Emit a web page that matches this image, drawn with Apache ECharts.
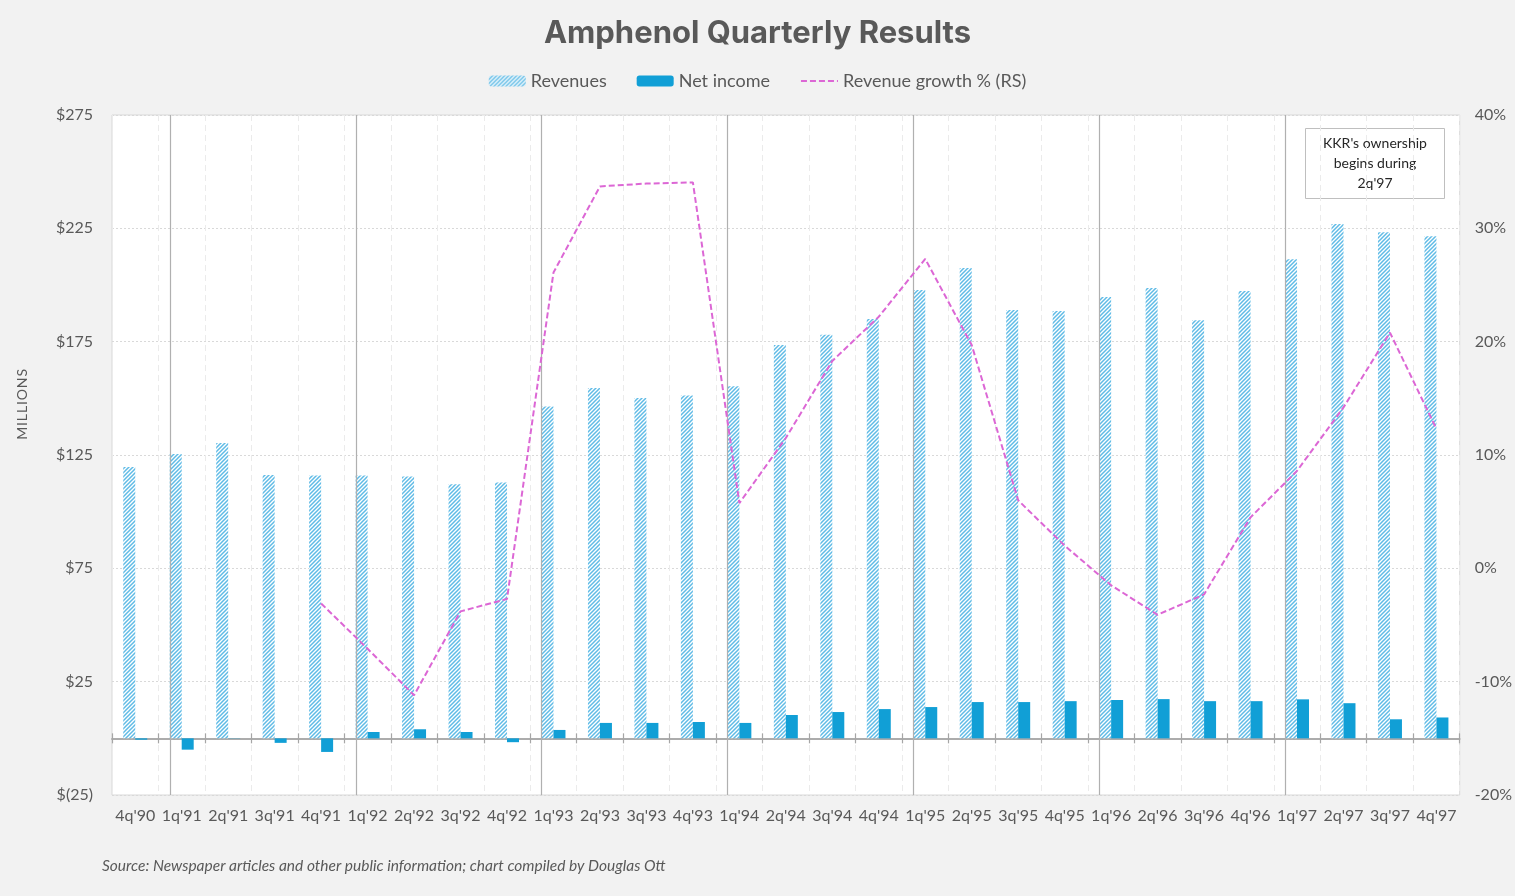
<!DOCTYPE html>
<html>
<head>
<meta charset="utf-8">
<script src="https://cdn.jsdelivr.net/npm/echarts@6/dist/echarts.min.js"></script>
<style>
html,body{margin:0;padding:0;background:#f2f2f2;}
#chart{width:1515px;height:896px;}
</style>
</head>
<body>
<div id="chart"></div>
<script>
const categories = ["4q'90","1q'91","2q'91","3q'91","4q'91","1q'92","2q'92","3q'92","4q'92","1q'93","2q'93","3q'93","4q'93","1q'94","2q'94","3q'94","4q'94","1q'95","2q'95","3q'95","4q'95","1q'96","2q'96","3q'96","4q'96","1q'97","2q'97","3q'97","4q'97"];
const revenues = [119.7,125.4,130.3,116.2,116.0,116.0,115.5,112.1,112.9,146.4,154.6,150.2,151.2,155.3,173.5,178.0,185.0,197.8,207.5,189.0,188.5,194.7,198.7,184.5,197.3,211.4,226.9,223.3,221.5];
const netIncome = [-0.6,-5.0,0.1,-2.0,-6.0,2.8,4.0,2.8,-1.7,3.7,6.8,6.8,7.2,6.8,10.3,11.6,12.9,13.8,16.0,16.0,16.4,16.9,17.3,16.4,16.4,17.2,15.5,8.4,9.2];
const revenueGrowth = [null,null,null,null,-3.1,-7.1,-11.2,-3.8,-2.7,26.1,33.7,33.95,34.05,5.75,11.5,18.3,22.2,27.3,19.7,6.0,2.0,-1.5,-4.1,-2.3,4.5,8.6,14.2,20.8,12.3];
const leftAxis = {min:-25, max:275, interval:50};
const rightAxis = {min:-20, max:40, interval:10};
const noteLines = ["KKR's ownership","begins during","2q'97"];

const TXT = '#595959';
const FONT = 'Lato, "Noto Sans", sans-serif';
const BAR_FRAC = 0.258;
const LINE_COLOR = '#dc67d5';

function hatchPattern(){
  const c = document.createElement('canvas');
  c.width = 4; c.height = 4;
  const g = c.getContext('2d');
  g.fillStyle = '#ffffff'; g.fillRect(0,0,4,4);
  g.strokeStyle = '#5fbbe6'; g.lineWidth = 1.5;
  g.beginPath();
  g.moveTo(0,4); g.lineTo(4,0);
  g.moveTo(-1,1); g.lineTo(1,-1);
  g.moveTo(3,5); g.lineTo(5,3);
  g.stroke();
  return c;
}
const hatch = {image: hatchPattern(), repeat: 'repeat'};
const yearStarts = categories.map((c,i)=> c.startsWith('1q') ? i : -1).filter(i=>i>=0);

const chart = echarts.init(document.getElementById('chart'));
const option = {
  backgroundColor: '#f2f2f2',
  animation: false,
  textStyle: {fontFamily: FONT},
  title: {
    text: 'Amphenol Quarterly Results',
    left: 'center', top: 13,
    textStyle: {fontFamily: 'Inter, "Open Sans", sans-serif', fontSize: 31, fontWeight: 'bold', color: TXT}
  },
  legend: {
    top: 67, left: 'center',
    itemWidth: 37, itemHeight: 11, itemGap: 30,
    textStyle: {fontSize: 18, color: TXT, fontFamily: FONT},
    data: ['Revenues','Net income',
      {name:'Revenue growth % (RS)', itemStyle:{color:'rgba(0,0,0,0)', borderColor:'rgba(0,0,0,0)', borderWidth:0}}]
  },
  grid: {left: 112, right: 54, top: 115, bottom: 101, show: true, backgroundColor: '#ffffff', borderColor: '#d9d9d9', borderWidth: 1},
  xAxis: [
    {type:'category', data: categories, position:'bottom',
     axisLine:{show:false, onZero:false}, axisTick:{show:false},
     axisLabel:{fontSize:16, color:TXT, margin:13, interval:0},
     splitLine:{show:true, interval:0, lineStyle:{color:'#ebebeb', type:[6,4], width:1}}},
    {type:'category', data: categories, position:'bottom',
     axisLine:{show:true, onZero:true, onZeroAxisIndex:0, lineStyle:{color:'#a6a6a6', width:1.5}},
     axisTick:{show:true, length:5, interval:0, lineStyle:{color:'#a6a6a6', width:1.2}},
     axisLabel:{show:false}, splitLine:{show:false}},
    {type:'category', data: categories, position:'bottom',
     axisLine:{show:true, onZero:true, onZeroAxisIndex:0, lineStyle:{color:'#a6a6a6', width:1.5}},
     axisTick:{show:true, inside:true, length:5, interval:0, lineStyle:{color:'#a6a6a6', width:1.2}},
     axisLabel:{show:false}, splitLine:{show:false}}
  ],
  yAxis: [
    {type:'value', position:'left', min:leftAxis.min, max:leftAxis.max, interval:leftAxis.interval,
     axisLine:{show:false}, axisTick:{show:false},
     axisLabel:{fontSize:16, color:TXT, margin:19, formatter: v => v < 0 ? '$(' + (-v) + ')' : '$' + v},
     splitLine:{show:true, lineStyle:{color:'#d9d9d9', type:[2,2], width:1}}},
    {type:'value', position:'right', min:rightAxis.min, max:rightAxis.max, interval:rightAxis.interval,
     axisLine:{show:false}, axisTick:{show:false},
     axisLabel:{fontSize:16, color:TXT, margin:15, formatter: v => v + '%'},
     splitLine:{show:false}}
  ],
  series: [
    {name:'Revenues', type:'bar', xAxisIndex:0, yAxisIndex:0, data: revenues,
     barWidth: (BAR_FRAC*100)+'%', barGap:'0%', itemStyle:{color: hatch}, z:2},
    {name:'Net income', type:'bar', xAxisIndex:0, yAxisIndex:0, data: netIncome,
     barWidth: (BAR_FRAC*100)+'%', barGap:'0%', itemStyle:{color:'#119fd6'}, z:2},
    {name:'Revenue growth % (RS)', type:'line', xAxisIndex:0, yAxisIndex:1, data: revenueGrowth,
     showSymbol:false, symbol:'none', connectNulls:false,
     lineStyle:{color:LINE_COLOR, width:2, type:[6,3]}, itemStyle:{color:LINE_COLOR}, z:4},
    {name:'yearLines', type:'custom', xAxisIndex:0, yAxisIndex:0, silent:true, z:3,
     data: yearStarts.map(i => [i, 0]),
     renderItem: function(params, api){
       const cs = params.coordSys;
       const band = api.size([1,0])[0];
       const x = Math.round(api.coord([api.value(0), 0])[0] - band*BAR_FRAC) + 0.5;
       return {type:'line', shape:{x1:x, y1:cs.y, x2:x, y2:cs.y+cs.height},
               style:{stroke:'#b0b0b0', lineWidth:1.2}};
     }}
  ],
  graphic: [
    {type:'text', left:15, top:369, rotation:Math.PI/2,
     style:{text:'MILLIONS'.split('').join('\u200A'), fontSize:14, fill:TXT, fontFamily:FONT}},
    {type:'group', left:1305, top:128, children:[
      {type:'rect', shape:{x:0,y:0,width:139,height:70}, style:{fill:'#ffffff', stroke:'#bfbfbf', lineWidth:1}},
      {type:'text', x:69.5, y:35, style:{text: noteLines.join('\n'), fontSize:14, lineHeight:20, fill:'#262626', align:'center', verticalAlign:'middle', fontFamily:FONT}}
    ]},
    {type:'text', left:102, top:858, style:{text:'Source: Newspaper articles and other public information; chart compiled by Douglas Ott', fontSize:15.5, fontStyle:'italic', fill:TXT, fontFamily:FONT}}
  ]
};
chart.setOption(option);
</script>
</body>
</html>
